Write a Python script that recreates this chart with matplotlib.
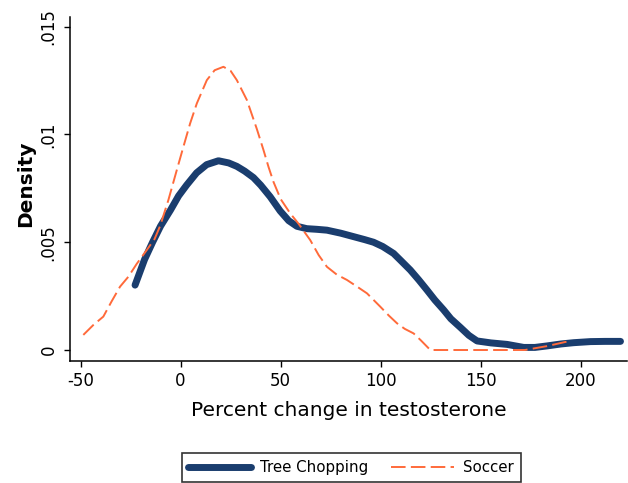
import matplotlib
matplotlib.use("Agg")
import matplotlib.pyplot as plt

# ---- data ----
tree_x = [-22.75, -18, -14, -10, -5, -1, 3, 8, 13, 18.9, 24, 28.1, 32, 36.4, 40,
          44.75, 49.75, 54, 58.1, 63, 68, 73.1, 80, 86.4, 92, 96.4, 101, 106.4,
          110, 114.75, 119, 123.1, 127, 131.4, 135, 139.75, 144, 148.1, 155,
          163.1, 171.4, 177, 183.1, 190, 196.4, 204.75, 212, 219.75]
tree_y = [0.00301, 0.00420, 0.00500, 0.00575, 0.00650, 0.00715, 0.00765, 0.00822,
          0.00860, 0.00878, 0.00868, 0.00852, 0.00830, 0.00800, 0.00765, 0.00711,
          0.00645, 0.00600, 0.00574, 0.00563, 0.00560, 0.00556, 0.00542, 0.00526,
          0.00512, 0.00500, 0.00480, 0.00448, 0.00415, 0.00371, 0.00325, 0.00278,
          0.00232, 0.00186, 0.00145, 0.00105, 0.00068, 0.00042, 0.00033, 0.00026,
          0.00012, 0.00012, 0.00019, 0.00028, 0.00034, 0.00039, 0.00040, 0.00040]

soccer_x = [-48.6, -43.6, -38.6, -34.5, -30.25, -26.1, -21.9, -16.9, -13, -10.25,
            -6.1, -1.9, 1.4, 4.75, 8.1, 13.1, 17, 21.4, 25, 28.1, 33.1, 38.1, 41.4,
            43.9, 46.4, 50, 54.75, 59, 64.75, 69, 73.1, 78, 83.1, 88, 93.1, 99.75,
            104, 108.1, 112, 116.4, 120, 124.75, 140, 160, 172, 183, 193]
soccer_y = [0.00070, 0.00116, 0.00155, 0.00225, 0.00294, 0.00340, 0.00400, 0.00464,
            0.00515, 0.00575, 0.00696, 0.00835, 0.00943, 0.01051, 0.01144, 0.01252,
            0.01298, 0.01314, 0.01295, 0.01252, 0.01160, 0.01025, 0.00928, 0.00850,
            0.00780, 0.00700, 0.00634, 0.00585, 0.00510, 0.00440, 0.00386, 0.00350,
            0.00325, 0.00295, 0.00263, 0.00201, 0.00160, 0.00124, 0.00098, 0.00077,
            0.00045, 0.00000, 0.00000, 0.00000, 0.00000, 0.00018, 0.00039]

x_ticks = [-50, 0, 50, 100, 150, 200]
x_tick_labels = ["-50", "0", "50", "100", "150", "200"]
y_ticks = [0, 0.005, 0.01, 0.015]
y_tick_labels = ["0", ".005", ".01", ".015"]

series_names = ["Tree Chopping", "Soccer"]
x_label = "Percent change in testosterone"
y_label = "Density"

# ---- style ----
plt.rcParams['font.family'] = ['DejaVu Sans']
plt.rcParams['lines.scale_dashes'] = False
navy = "#1a3d6e"
orange = "#ff6a3a"

W, H = 628, 483
fig = plt.figure(figsize=(W / 100, H / 100), dpi=100)
left_px, right_px, top_px, bottom_px = 70, 627, 17, 361
ax = fig.add_axes([left_px / W, 1 - bottom_px / H,
                   (right_px - left_px) / W, (bottom_px - top_px) / H])

l1, = ax.plot(tree_x, tree_y, color=navy, lw=5, solid_capstyle='round',
              solid_joinstyle='round', label=series_names[0], zorder=3)
l2, = ax.plot(soccer_x, soccer_y, color=orange, lw=1.4, dashes=(10.5, 3.8),
              label=series_names[1], zorder=4)

ax.set_xlim(-55.25, 223)
ax.set_ylim(-0.00051, 0.01545)

ax.set_xticks(x_ticks)
ax.set_xticklabels(x_tick_labels)
ax.set_yticks(y_ticks)
ax.set_yticklabels(y_tick_labels, rotation=90, va='center')

for s in ['top', 'right']:
    ax.spines[s].set_visible(False)
for s in ['left', 'bottom']:
    ax.spines[s].set_linewidth(1.1)
    ax.spines[s].set_color('black')

ax.tick_params(axis='both', direction='out', length=4, width=1.0,
               labelsize=12, colors='black')
ax.tick_params(axis='x', pad=4)
ax.tick_params(axis='y', pad=5)

ax.set_xlabel(x_label, fontsize=14.5, labelpad=8)
ax.set_ylabel(y_label, fontsize=14.5, fontweight='bold')
ax.yaxis.set_label_coords((35 - left_px) / (right_px - left_px),
                          (bottom_px - 183.5) / (bottom_px - top_px))

leg = fig.legend(handles=[l1, l2], labels=series_names, loc='center',
                 bbox_to_anchor=(351 / W, 1 - 467.5 / H), ncol=2,
                 fontsize=10.8, frameon=True, fancybox=False,
                 edgecolor='black', handlelength=4.2, handletextpad=0.6,
                 columnspacing=1.5, borderpad=0.45, borderaxespad=0)
leg.get_frame().set_linewidth(1.2)

fig.savefig("out.png", dpi=100)
